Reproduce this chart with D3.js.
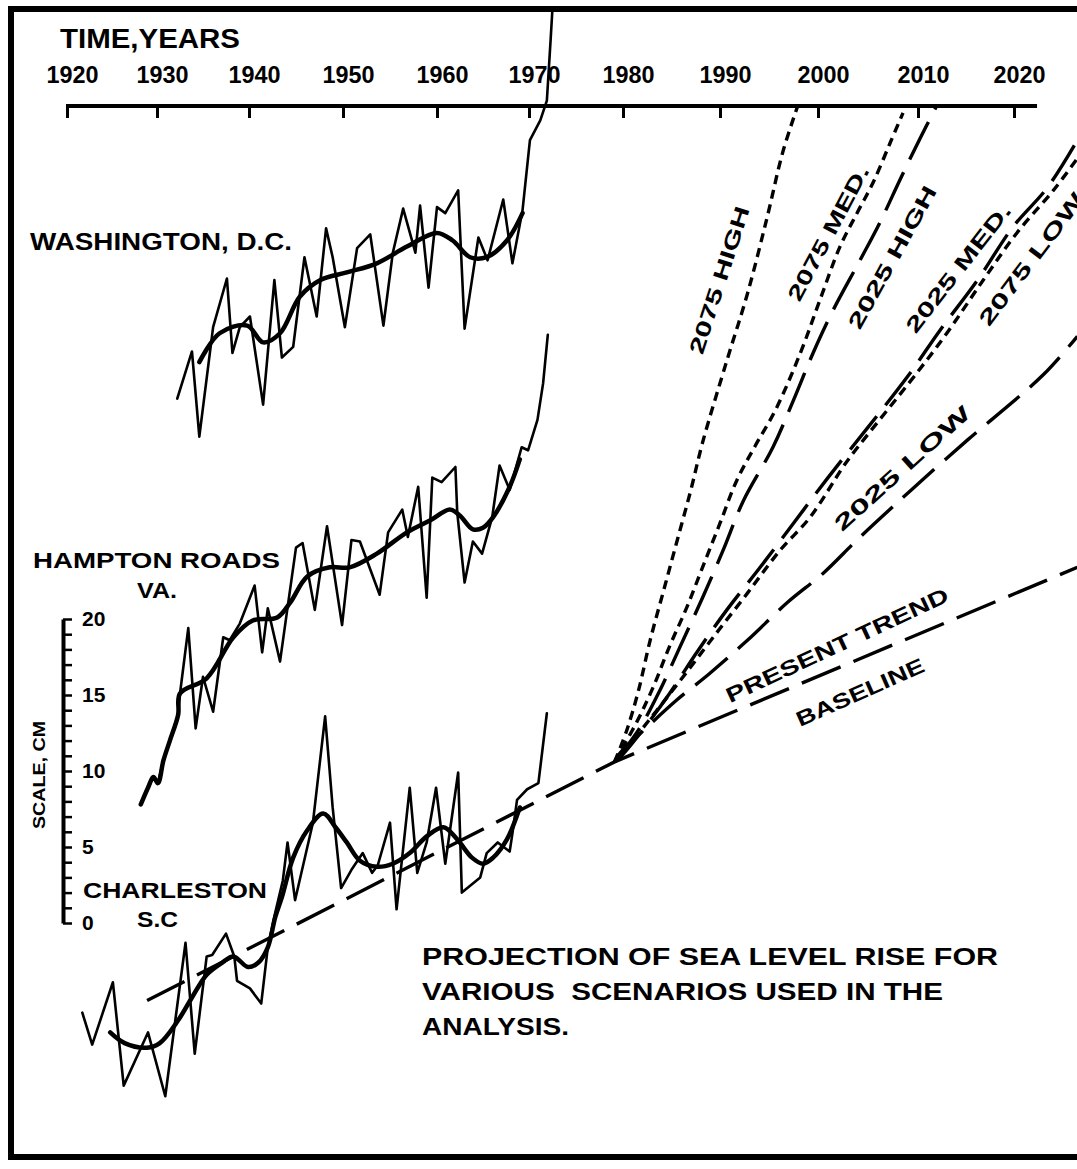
<!DOCTYPE html>
<html>
<head>
<meta charset="utf-8">
<script src="https://cdn.jsdelivr.net/npm/d3@7"></script>
<style>
  body { margin: 0; background: #fff; }
  svg { display: block; }
  text { font-family: "Liberation Sans", Arial, sans-serif; font-weight: bold; fill: #000; }
</style>
</head>
<body>
<svg id="chart" width="1077" height="1169"></svg>
<script>
// ---- data (years, cm on the figure's own scale) ----
const tickYears = d3.range(1920, 2021, 10);

const washRawYear = [1932.2,1933.8,1934.6,1936.1,1937.6,1938.2,1939.0,1940.1,1941.5,1942.7,1943.5,1944.7,1945.9,1947.2,1948.2,1948.9,1950.2,1951.5,1952.9,1954.3,1955.3,1956.4,1957.7,1958.2,1959.1,1960.0,1960.9,1962.3,1963.0,1964.5,1965.5,1967.2,1968.2,1969.3,1970.1,1971.2,1971.9,1972.3,1972.5];
const washRawCm = [34.5,37.6,32.0,39.2,42.4,37.5,39.2,39.9,34.1,42.3,37.2,37.9,43.8,39.9,45.7,43.8,39.2,44.4,45.3,39.3,44.1,47.0,44.1,47.2,41.8,47.1,46.7,48.2,39.1,45.1,43.6,47.6,43.4,46.9,51.5,52.8,54.1,58.1,60.2];
const washSmoothYear = [1934.6,1936.8,1939.8,1941.5,1943.3,1945.4,1947.6,1950.4,1953.6,1956.8,1960.0,1961.7,1963.6,1965.4,1967.6,1969.3];
const washSmoothCm = [36.9,38.8,39.3,38.2,38.8,41.2,42.3,42.8,43.4,44.5,45.4,44.9,43.8,43.8,44.9,46.7];

const hamRawYear = [1928.2,1929.0,1929.6,1930.1,1930.7,1931.4,1932.3,1932.5,1933.4,1934.2,1935.0,1936.1,1937.2,1937.9,1939.0,1940.6,1941.4,1942.0,1943.3,1944.0,1945.0,1945.7,1947.0,1948.3,1949.9,1950.9,1951.8,1953.9,1954.8,1956.3,1956.9,1958.0,1958.9,1959.5,1960.5,1962.0,1962.2,1963.0,1963.9,1964.9,1966.0,1966.8,1967.9,1969.2,1969.9,1970.9,1971.5,1972.0];
const hamRawCm = [7.8,8.9,9.6,9.2,10.7,12.0,13.7,15.1,19.4,12.8,16.2,13.9,18.8,18.6,19.7,22.2,17.8,20.7,17.2,20.3,24.7,25.0,20.6,26.1,19.6,25.2,25.1,21.6,25.7,27.2,25.4,28.7,21.4,29.3,29.0,30.0,27.0,22.4,25.1,24.3,26.7,30.1,28.5,31.3,31.1,33.1,35.5,38.7];
const hamSmoothYear = [1928.2,1929.0,1929.6,1930.1,1930.7,1931.4,1932.3,1932.5,1935.4,1938.3,1940.4,1943.0,1944.4,1946.2,1948.6,1950.7,1953.6,1956.8,1959.3,1961.4,1962.5,1963.9,1965.0,1966.1,1967.9,1969.0];
const hamSmoothCm = [7.8,8.9,9.6,9.2,10.7,12.0,13.7,15.1,16.1,18.8,19.9,20.1,21.1,22.8,23.4,23.4,24.3,25.7,26.5,27.2,26.8,25.9,26.0,26.7,28.7,30.5];

const chaRawYear = [1921.7,1922.8,1925.1,1926.3,1929.0,1930.9,1933.1,1934.1,1935.4,1936.0,1937.5,1938.4,1938.7,1940.1,1941.3,1942.0,1942.8,1943.6,1944.1,1944.9,1946.8,1948.1,1948.9,1949.8,1950.9,1952.1,1953.1,1953.7,1955.0,1955.7,1957.1,1957.9,1958.9,1959.9,1960.9,1962.3,1962.7,1964.7,1965.4,1966.6,1967.9,1968.2,1968.7,1969.8,1971.0,1971.9];
const chaRawCm = [-5.9,-8.0,-3.9,-10.7,-7.2,-11.4,-1.3,-8.6,-2.2,-2.1,-0.7,-2.2,-3.8,-4.3,-5.3,-1.6,0.7,2.8,5.3,1.5,6.6,13.6,7.6,2.3,3.5,4.6,3.3,3.8,6.6,0.9,8.9,3.3,5.3,8.9,3.9,9.9,2.0,3.0,4.6,5.3,4.7,5.9,8.1,8.8,9.2,13.8];
const chaSmoothYear = [1924.8,1926.4,1928.9,1930.3,1932.3,1933.8,1935.4,1937.1,1938.3,1939.9,1941.0,1942.0,1942.8,1943.5,1944.7,1946.2,1947.9,1949.2,1950.4,1951.8,1953.6,1955.3,1957.1,1958.9,1960.7,1962.2,1963.8,1965.0,1966.1,1967.6,1969.0];
const chaSmoothCm = [-7.2,-7.9,-8.2,-7.9,-6.4,-4.9,-3.4,-2.6,-2.2,-2.9,-2.6,-1.6,0.4,1.7,4.3,6.1,7.2,6.3,5.3,4.1,3.7,3.9,4.6,5.7,6.3,5.5,4.3,3.9,4.3,5.5,7.6];

// present trend through Charleston, then baseline
const trendYear = [1928.9, 1979.1, 2026.6];
const trendCm = [-5.1, 10.6, 23.4];

// scenario projections
const high2075Year = [1979.1,1980.4,1981.6,1982.8,1984.2,1985.6,1987.0,1988.2,1990.7,1992.8,1994.8,1996.4,1997.9];
const high2075Cm = [10.6,12.7,15.3,18.6,21.9,25.2,28.5,31.6,37.0,41.4,46.4,50.7,53.7];
const med2075Year = [1979.1,1981.4,1983.1,1984.8,1986.6,1988.2,1990.0,1991.7,1993.6,1995.7,1998.2,2000.2,2002.2,2003.9,2005.5,2007.2,2008.5];
const med2075Cm = [10.6,13.2,15.5,18.2,20.8,23.4,26.3,29.1,31.4,33.8,37.5,41.0,44.5,46.7,48.7,51.3,53.3];
const high2025Year = [1979.1,1979.9,1981.8,1983.8,1985.9,1988.2,1990.3,1992.4,1995.4,1997.5,1999.5,2001.5,2004.2,2006.2,2008.2,2010.2,2011.9];
const high2025Cm = [10.6,11.2,12.9,15.3,18.2,21.4,24.5,27.8,31.3,34.4,37.5,40.3,43.6,46.1,48.9,51.6,53.7];
const med2025Year = [1979.1,1979.7,1981.8,1984.8,1987.6,1990.7,1994.1,1997.5,2001.0,2008.9,2012.3,2016.2,2019.9,2023.5,2026.6];
const med2025Cm = [10.6,10.9,12.5,15.1,17.8,20.6,23.4,26.3,29.3,35.9,39.0,42.3,45.8,48.4,51.5];
const low2075Year = [1979.1,1981.0,1983.5,1986.2,1989.3,1992.8,1996.1,1999.2,2002.5,2003.5,2009.9,2013.0,2016.8,2020.3,2024.1,2026.6];
const low2075Cm = [10.6,12.0,14.0,16.2,18.8,21.7,24.5,26.7,30.0,30.9,36.2,38.8,42.3,45.4,48.2,50.3];
const low2025Year = [1979.1,1979.7,1982.5,1985.6,1988.9,1992.8,1996.9,2000.5,2003.9,2007.5,2011.6,2015.2,2023.1,2026.6];
const low2025Cm = [10.6,11.2,12.9,14.7,16.4,18.6,21.1,23.0,25.2,27.4,29.8,31.8,36.1,38.6];

const scaleTicks = d3.range(0, 21);

// ---- layout ----
const svg = d3.select('#chart');
// the printed year axis is hand drawn, so the scale follows its tick marks
const tickStops = [67, 157, 249, 343, 437, 529, 623, 720, 818, 918, 1014];
const x = d3.scaleLinear().domain(tickYears).range(tickStops);
const y = d3.scaleLinear().domain([0, 20]).range([923, 619]);
const axisY = 106;

// frame
svg.append('path')
  .attr('d', 'M1077,9 H11 V1157 H1077')
  .attr('fill', 'none').attr('stroke', '#000').attr('stroke-width', 6);

// time axis
svg.append('text').attr('x', 60).attr('y', 48)
  .attr('font-size', 27).attr('textLength', 180).attr('lengthAdjust', 'spacingAndGlyphs')
  .text('TIME,YEARS');

const topAxis = svg.append('g')
  .attr('transform', `translate(0,${axisY})`)
  .call(d3.axisTop(x).tickValues(tickYears).tickFormat(d3.format('d'))
    .tickSizeInner(-12).tickSizeOuter(0).tickPadding(23));
topAxis.select('.domain').remove();
topAxis.selectAll('.tick line').attr('stroke', '#000').attr('stroke-width', 3);
topAxis.selectAll('.tick text')
  .attr('dx', 5).attr('font-size', 23)
  .attr('textLength', 52).attr('lengthAdjust', 'spacingAndGlyphs')
  .style('font-family', '"Liberation Sans", Arial, sans-serif').style('font-weight', 'bold');
svg.append('line')
  .attr('x1', x(1920) - 1).attr('x2', x(2022.4))
  .attr('y1', axisY).attr('y2', axisY)
  .attr('stroke', '#000').attr('stroke-width', 4);

// vertical cm scale bar
const scaleBar = svg.append('g')
  .attr('transform', 'translate(63,0)')
  .call(d3.axisRight(y).tickValues(scaleTicks)
    .tickFormat(d => d % 5 === 0 ? d : '')
    .tickSizeInner(9).tickSizeOuter(0).tickPadding(10));
scaleBar.select('.domain').attr('stroke', '#000').attr('stroke-width', 4);
scaleBar.selectAll('.tick line').attr('stroke', '#000').attr('stroke-width', 2.5);
scaleBar.selectAll('.tick text').attr('font-size', 21)
  .style('font-family', '"Liberation Sans", Arial, sans-serif').style('font-weight', 'bold');
svg.append('text')
  .attr('transform', 'translate(45,775) rotate(-90)')
  .attr('text-anchor', 'middle').attr('font-size', 16).attr('font-weight', 'normal')
  .attr('textLength', 108).attr('lengthAdjust', 'spacingAndGlyphs')
  .text('SCALE, CM');

// lines
const pts = (ys, cs) => ys.map((yr, i) => [x(yr), y(cs[i])]);
const rawLine = d3.line();
const smoothLine = d3.line().curve(d3.curveCatmullRom.alpha(0.5));

function drawSeries(ys, cs, width, curve) {
  svg.append('path')
    .attr('d', (curve ? smoothLine : rawLine)(pts(ys, cs)))
    .attr('fill', 'none').attr('stroke', '#000')
    .attr('stroke-width', width)
    .attr('stroke-linejoin', 'round').attr('stroke-linecap', 'round');
}

drawSeries(washRawYear, washRawCm, 2.6, false);
drawSeries(washSmoothYear, washSmoothCm, 4.5, true);
drawSeries(hamRawYear, hamRawCm, 2.6, false);
drawSeries(hamSmoothYear, hamSmoothCm, 4.5, true);
drawSeries(chaRawYear, chaRawCm, 2.6, false);
drawSeries(chaSmoothYear, chaSmoothCm, 4.5, true);

// projections, clipped to the frame below the axis
svg.append('clipPath').attr('id', 'proj')
  .append('rect').attr('x', 14).attr('y', axisY).attr('width', 1063).attr('height', 1050);
const proj = svg.append('g').attr('clip-path', 'url(#proj)');

const longDash = '42 14';
const shortDash = '9 6';
const scenarios = [
  [trendYear, trendCm, longDash, false],
  [high2075Year, high2075Cm, shortDash, true],
  [med2075Year, med2075Cm, shortDash, true],
  [high2025Year, high2025Cm, longDash, true],
  [med2025Year, med2025Cm, longDash, true],
  [low2075Year, low2075Cm, shortDash, true],
  [low2025Year, low2025Cm, longDash, true]
];
scenarios.forEach(([ys, cs, dash, curve]) => {
  proj.append('path')
    .attr('d', (curve ? smoothLine : rawLine)(pts(ys, cs)))
    .attr('fill', 'none').attr('stroke', '#000')
    .attr('stroke-width', 3.4)
    .attr('stroke-dasharray', dash);
});

// station labels and caption
const stationLabels = [
  { text: 'WASHINGTON, D.C.', x: 30, y: 250, size: 24, len: 262 },
  { text: 'HAMPTON ROADS', x: 33, y: 568, size: 22, len: 247 },
  { text: 'VA.', x: 137, y: 598, size: 22, len: 40 },
  { text: 'CHARLESTON', x: 83, y: 898, size: 22, len: 184 },
  { text: 'S.C', x: 137, y: 927, size: 22, len: 41 },
  { text: 'PROJECTION OF SEA LEVEL RISE FOR', x: 422, y: 965, size: 24, len: 576 },
  { text: 'VARIOUS  SCENARIOS USED IN THE', x: 422, y: 1000, size: 24, len: 521 },
  { text: 'ANALYSIS.', x: 422, y: 1035, size: 24, len: 147 }
];
svg.selectAll('.lbl')
  .data(stationLabels)
  .enter()
  .append('text')
  .attr('class', 'lbl')
  .attr('x', d => d.x).attr('y', d => d.y)
  .attr('font-size', d => d.size)
  .attr('textLength', d => d.len).attr('lengthAdjust', 'spacingAndGlyphs')
  .style('white-space', 'pre')
  .text(d => d.text);

// scenario labels along the lines
const scenarioLabels = [
  { text: '2075 HIGH', cx: 719, cy: 280, angle: -72, len: 154 },
  { text: '2075 MED.', cx: 828, cy: 233, angle: -62, len: 150 },
  { text: '2025 HIGH', cx: 892, cy: 257, angle: -61, len: 160 },
  { text: '2025 MED.', cx: 958, cy: 268, angle: -52, len: 157 },
  { text: '2075 LOW', cx: 1031, cy: 259, angle: -53, len: 160 },
  { text: '2025 LOW', cx: 902, cy: 468, angle: -42, len: 175 },
  { text: 'PRESENT TREND', cx: 837, cy: 645, angle: -25, len: 243 },
  { text: 'BASELINE', cx: 860, cy: 692, angle: -24, len: 138 }
];
svg.selectAll('.slbl')
  .data(scenarioLabels)
  .enter()
  .append('text')
  .attr('class', 'slbl')
  .attr('transform', d => `translate(${d.cx},${d.cy}) rotate(${d.angle})`)
  .attr('text-anchor', 'middle').attr('dy', '0.36em')
  .attr('font-size', 21)
  .attr('textLength', d => d.len).attr('lengthAdjust', 'spacingAndGlyphs')
  .text(d => d.text);
</script>
</body>
</html>
